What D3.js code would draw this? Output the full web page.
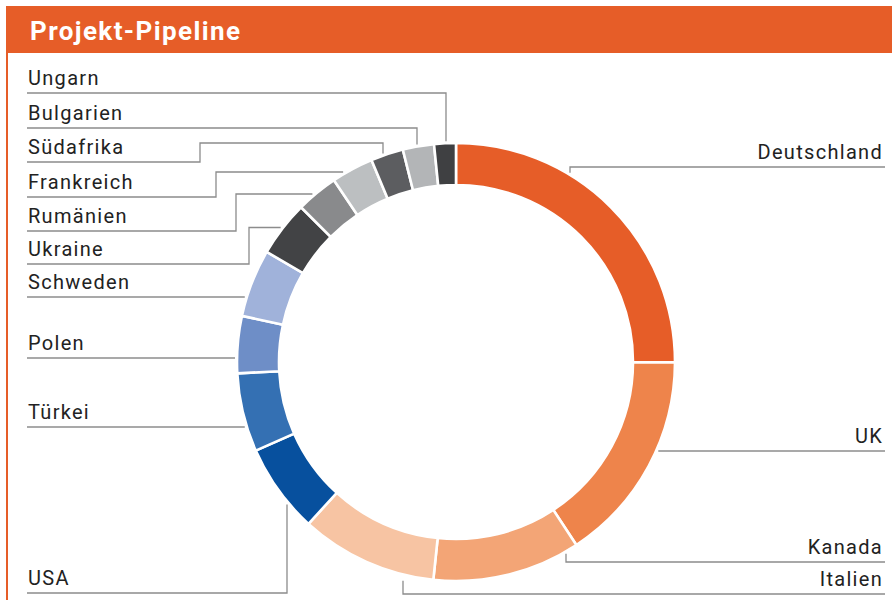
<!DOCTYPE html>
<html>
<head>
<meta charset="utf-8">
<script src="https://cdn.jsdelivr.net/npm/d3@7"></script>
<style>
  body { margin: 0; background: #fff; }
  svg { display: block; }
  .label { font-family: Roboto, "DejaVu Sans", sans-serif; font-size: 20px; letter-spacing: 1.3px; fill: #222; }
  .title { font-family: Roboto, "DejaVu Sans", sans-serif; font-size: 26px; font-weight: bold; letter-spacing: 1.4px; fill: #fff; }
</style>
</head>
<body>
<div id="chart"></div>
<script>
// Anteile an der Projekt-Pipeline (%), im Uhrzeigersinn ab 12 Uhr
const countries = ['Deutschland', 'UK', 'Kanada', 'Italien', 'USA', 'Türkei', 'Polen',
  'Schweden', 'Ukraine', 'Rumänien', 'Frankreich', 'Südafrika', 'Bulgarien', 'Ungarn'];
const shares = [25.0, 15.7, 10.9, 10.1, 6.6, 5.8, 4.2, 5.0, 4.1, 3.1, 3.1, 2.4, 2.3, 1.6];
const colors = ['#e65d28', '#ee844b', '#f3a576', '#f7c4a3', '#07509e', '#3470b3', '#6e8ec7',
  '#a0b2da', '#424345', '#898a8c', '#bcbfc1', '#5c5d60', '#b3b5b7', '#3f4042'];

// Lage der Beschriftungen und Führungslinien
const leaders = {
  'Ungarn':      { side: 'left',  y: 93,  kind: 'down', x: 446 },
  'Bulgarien':   { side: 'left',  y: 128, kind: 'down', x: 417 },
  'Südafrika':   { side: 'left',  y: 162, kind: 'stepDown', elbow: 200, jog: 143, x: 383 },
  'Frankreich':  { side: 'left',  y: 197, kind: 'step', elbow: 216, jog: 172 },
  'Rumänien':    { side: 'left',  y: 231, kind: 'step', elbow: 236, jog: 194 },
  'Ukraine':     { side: 'left',  y: 264, kind: 'step', elbow: 249, jog: 227.5 },
  'Schweden':    { side: 'left',  y: 297, kind: 'straight' },
  'Polen':       { side: 'left',  y: 358, kind: 'straight' },
  'Türkei':      { side: 'left',  y: 427, kind: 'straight' },
  'USA':         { side: 'left',  y: 593, kind: 'up', x: 287 },
  'Deutschland': { side: 'right', y: 167, kind: 'down', x: 570 },
  'UK':          { side: 'right', y: 451, kind: 'straight' },
  'Kanada':      { side: 'right', y: 562, kind: 'up', x: 566 },
  'Italien':     { side: 'right', y: 594, kind: 'up', x: 403, gap: 6 }
};

const width = 892, height = 600;
const cx = 456, cy = 362, R = 219, r = 177;
const leftX = 27, rightX = 885;

const svg = d3.select('#chart').append('svg')
  .attr('width', width)
  .attr('height', height);

// Kopfzeile
svg.append('rect').attr('x', 6).attr('y', 6).attr('width', width - 6).attr('height', 47).attr('fill', '#e65d28');
svg.append('rect').attr('x', 6).attr('y', 53).attr('width', 2).attr('height', height - 53).attr('fill', '#e65d28');
svg.append('text').attr('class', 'title').attr('x', 30).attr('y', 40).text('Projekt-Pipeline');

const data = countries.map((c, i) => ({ name: c, value: shares[i] }));
const color = d3.scaleOrdinal().domain(countries).range(colors);

const pie = d3.pie().value(d => d.value).sort(null).startAngle(0).endAngle(2 * Math.PI);
const arc = d3.arc().innerRadius(r).outerRadius(R);

const g = svg.append('g').attr('transform', `translate(${cx},${cy})`);
g.selectAll('path.slice')
  .data(pie(data))
  .join('path')
  .attr('class', 'slice')
  .attr('d', arc)
  .attr('fill', d => color(d.data.name))
  .attr('stroke', '#fff')
  .attr('stroke-width', 2.6);

// Punkte auf dem Ring
function ringY(x, dir, gap) {
  const rr = R + gap;
  return cy + dir * Math.sqrt(rr * rr - (x - cx) * (x - cx));
}
function ringX(y, dir, gap) {
  const rr = R + gap;
  return cx + dir * Math.sqrt(rr * rr - (y - cy) * (y - cy));
}

function leaderPoints(L) {
  const gap = L.gap ?? 2;
  const start = L.side === 'left' ? leftX : rightX;
  const s = L.side === 'left' ? -1 : 1;
  switch (L.kind) {
    case 'straight': return [[start, L.y], [ringX(L.y, s, gap), L.y]];
    case 'down': return [[start, L.y], [L.x, L.y], [L.x, ringY(L.x, -1, gap)]];
    case 'up': return [[start, L.y], [L.x, L.y], [L.x, ringY(L.x, 1, gap)]];
    case 'step': return [[start, L.y], [L.elbow, L.y], [L.elbow, L.jog], [ringX(L.jog, s, gap), L.jog]];
    case 'stepDown': return [[start, L.y], [L.elbow, L.y], [L.elbow, L.jog], [L.x, L.jog], [L.x, ringY(L.x, -1, gap)]];
  }
}

const line = d3.line();
svg.append('g').selectAll('path.leader')
  .data(countries)
  .join('path')
  .attr('class', 'leader')
  .attr('d', c => line(leaderPoints(leaders[c])))
  .attr('fill', 'none')
  .attr('stroke', '#8c8c8c')
  .attr('stroke-width', 1.3);

svg.append('g').selectAll('text.label')
  .data(countries)
  .join('text')
  .attr('class', 'label')
  .attr('x', c => leaders[c].side === 'left' ? leftX + 1 : rightX - 2)
  .attr('y', c => leaders[c].y - 8)
  .attr('text-anchor', c => leaders[c].side === 'left' ? 'start' : 'end')
  .text(c => c);
</script>
</body>
</html>
